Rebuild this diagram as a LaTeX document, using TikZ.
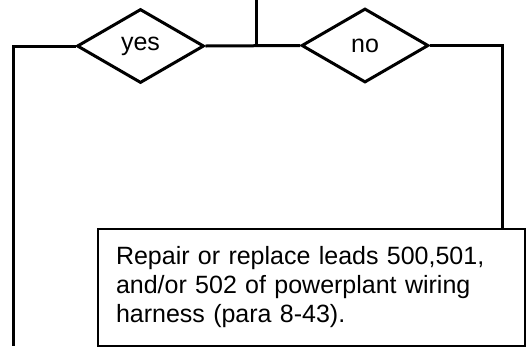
\documentclass[tikz,border=0pt]{standalone}
\usepackage{fontspec}
\setmainfont{Liberation Sans}
\newfontfamily\wideface[WordSpace=1.6]{Liberation Sans}
\usetikzlibrary{shapes.geometric}

\begin{document}
\begin{tikzpicture}[x=1pt,y=-1pt,
  chkdia/.style={draw,diamond,aspect=1.72,minimum width=127pt,minimum height=74pt,
    inner sep=0pt,line width=3pt,font=\fontsize{25}{29}\selectfont},
  fixbox/.style={draw,rectangle,anchor=north west,minimum width=427pt,minimum height=117pt,
    inner xsep=18pt,inner ysep=0pt,text width=391pt,align=left,line width=2pt,
    font=\wideface\fontsize{25}{29}\selectfont},
  flow/.style={line width=3pt}
]
  \useasboundingbox (0,0) rectangle (526,346);
  % Decisions
  \node[chkdia] (yes) at (140.5,46) {yes};
  \node[chkdia] (no) at (365,45.5) {no};
  % Action
  \node[fixbox] (repair) at (97,228) {Repair or replace leads 500,501,\\and/or 502 of powerplant wiring\\harness (para 8-43).};
  % Line ends
  \coordinate (topin) at (256,0);
  \coordinate (leftout) at (13,346);
  \coordinate (rightdrop) at (502,228);
  % Connectors
  \draw[flow] (topin) -- (topin |- yes.east);
  \draw[flow] (yes.east) -- (no.west);
  \draw[flow] (yes.west) -| (leftout);
  \draw[flow] (no.east) -| (rightdrop);
\end{tikzpicture}
\end{document}
